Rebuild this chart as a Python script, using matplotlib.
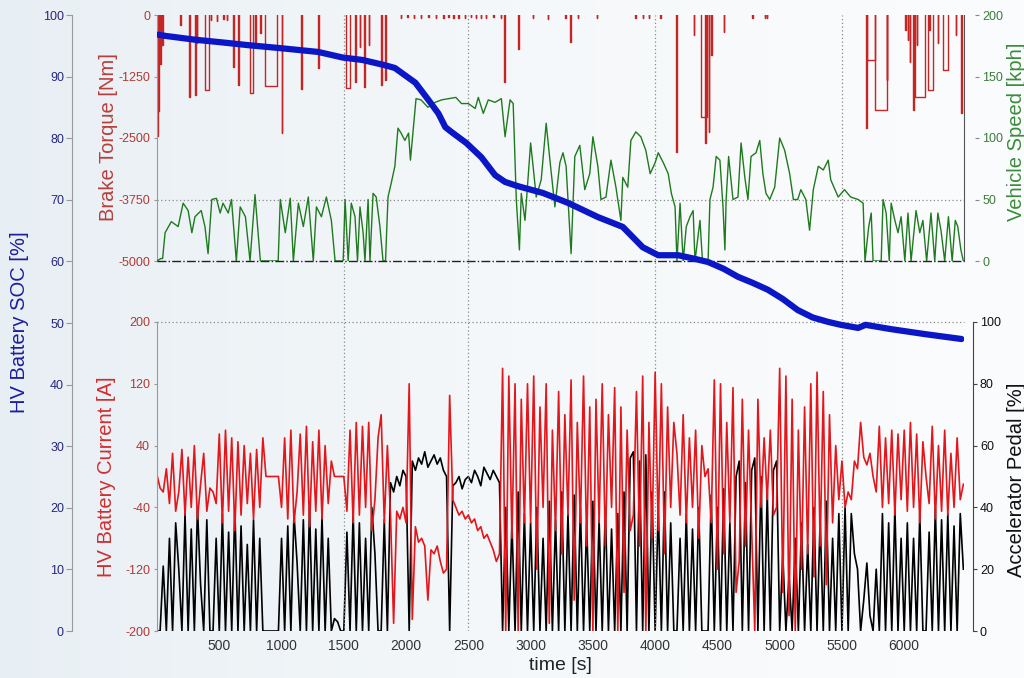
import numpy as np
import matplotlib.pyplot as plt
from matplotlib.colors import LinearSegmentedColormap

plt.rcParams['font.family'] = ['Liberation Sans', 'DejaVu Sans']
plt.rcParams['axes.unicode_minus'] = False

T_END = 6480

# HV battery state of charge [%]
soc_t = [10, 70, 300, 500, 735, 1000, 1295, 1490, 1650, 1820, 1910, 2075, 2180, 2260,
         2315, 2365, 2485, 2605, 2715, 2795, 2900, 3100, 3300, 3540, 3740, 3900, 4025,
         4185, 4300, 4425, 4550, 4665, 4785, 4905, 5025, 5145, 5265, 5385, 5491, 5630,
         5690, 5895, 6165, 6460]
soc_pct = [96.8, 96.6, 96.0, 95.6, 95.1, 94.6, 94.0, 93.1, 92.7, 91.9, 91.4, 89.0, 86.2, 84.0,
           81.8, 81.0, 79.2, 76.9, 74.0, 72.9, 72.2, 71.1, 69.5, 67.2, 65.6, 62.3, 61.0,
           61.0, 60.5, 59.9, 58.8, 57.5, 56.5, 55.4, 53.9, 52.1, 50.9, 50.2, 49.7, 49.2,
           49.7, 49.0, 48.2, 47.4]

# vehicle speed [kph]
speed_t = [0, 30, 45, 65, 115, 170, 210, 250, 280, 305,
           355, 385, 410, 440, 477, 507, 530, 572, 598, 637,
           668, 710, 747, 787, 830, 870, 973, 990, 1030, 1070,
           1095, 1135, 1175, 1215, 1255, 1280, 1320, 1360, 1400, 1430,
           1495, 1510, 1535, 1560, 1590, 1610, 1630, 1655, 1670, 1695,
           1710, 1735, 1760, 1790, 1815, 1835, 1855, 1880, 1910, 1935,
           1960, 1990, 2020, 2035, 2055, 2080, 2120, 2175, 2235, 2285,
           2340, 2400, 2445, 2500, 2555, 2580, 2620, 2660, 2715, 2765,
           2795, 2835, 2860, 2885, 2910, 2925, 2955, 2980, 3000, 3020,
           3045, 3085, 3125, 3155, 3195, 3235, 3260, 3285, 3325, 3355,
           3395, 3435, 3475, 3500, 3540, 3565, 3605, 3645, 3685, 3725,
           3740, 3780, 3805, 3845, 3885, 3925, 3960, 4000, 4025, 4065,
           4105, 4130, 4160, 4175, 4200, 4225, 4250, 4280, 4305, 4320,
           4360, 4380, 4425, 4440, 4465, 4490, 4520, 4545, 4560, 4570,
           4590, 4625, 4665, 4690, 4720, 4745, 4770, 4810, 4840, 4865,
           4890, 4920, 4960, 5000, 5040, 5080, 5110, 5145, 5170, 5210,
           5240, 5270, 5310, 5350, 5390, 5410, 5470, 5520, 5570, 5630,
           5670, 5685, 5715, 5735, 5750, 5815, 5830, 5855, 5880, 5895,
           5925, 5950, 5975, 6005, 6030, 6055, 6095, 6125, 6150, 6180,
           6215, 6245, 6270, 6295, 6325, 6355, 6385, 6410, 6430, 6455,
           6475]
speed_kph = [0, 2, 2, 23, 32, 28, 47, 41, 23, 36,
             41, 28, 6, 50, 51, 39, 47, 39, 50, 0,
             44, 36, 0, 54, 0, 0, 0, 50, 23, 51,
             0, 47, 28, 52, 0, 44, 36, 52, 33, 0,
             0, 50, 0, 47, 36, 0, 44, 23, 0, 50,
             0, 55, 52, 28, 0, 0, 52, 63, 77, 108,
             104, 98, 104, 82, 104, 132, 131, 125, 129, 131,
             132, 133, 128, 128, 124, 133, 120, 131, 129, 132,
             101, 131, 128, 50, 9, 55, 33, 68, 96, 77,
             52, 66, 112, 82, 44, 80, 88, 77, 6, 85,
             94, 58, 71, 101, 77, 50, 52, 82, 60, 33,
             68, 60, 98, 105, 101, 90, 71, 80, 88, 80,
             71, 55, 44, 0, 47, 0, 28, 36, 41, 0,
             33, 0, 0, 50, 60, 85, 82, 44, 9, 50,
             85, 50, 52, 96, 68, 50, 85, 88, 98, 71,
             55, 50, 60, 100, 90, 71, 50, 50, 58, 50,
             25, 58, 77, 74, 82, 66, 52, 58, 52, 50,
             47, 0, 28, 39, 0, 0, 50, 39, 0, 47,
             33, 23, 36, 0, 39, 0, 41, 23, 33, 0,
             39, 0, 39, 25, 0, 36, 0, 33, 28, 9,
             0]

# brake events: start [s], duration [s], torque [Nm]
brake_start = [0, 12, 25, 40, 185, 258, 305, 320, 385, 430,
               480, 530, 560, 612, 653, 750, 787, 828, 870, 1000,
               1160, 1295, 1520, 1590, 1630, 1665, 1700, 1800, 1830,
               1960, 2010, 2060, 2120, 2180, 2240, 2300, 2340, 2380, 2420,
               2470, 2520, 2560, 2600, 2640, 2700, 2760,
               2790, 2900, 3020, 3140, 3280, 3320, 3380, 3530,
               3840, 3900, 3950, 4040, 4170, 4310, 4370, 4400, 4430, 4450,
               4550, 4780, 4880, 4895, 5690, 5698, 5765, 5860,
               6010, 6030, 6045, 6070, 6085, 6100, 6190, 6200, 6270, 6310, 6415, 6455]
brake_len = [8, 8, 10, 5, 5, 6, 6, 4, 35, 4,
             4, 4, 4, 5, 5, 22, 4, 4, 90, 5,
             6, 5, 30, 5, 4, 6, 4, 6, 6,
             3, 3, 3, 3, 3, 3, 3, 3, 3, 3,
             3, 3, 3, 3, 3, 3, 3,
             5, 5, 3, 3, 3, 4, 3, 3,
             3, 3, 3, 3, 5, 4, 50, 5, 5, 5,
             4, 3, 3, 3, 8, 67, 100, 5,
             5, 4, 5, 5, 80, 4, 40, 4, 5, 40, 4, 10]
brake_nm = [-2450, -1950, -1000, -600, -200, -1660, -1630, -570, -1520, -100,
            -120, -90, -100, -1050, -1420, -1590, -550, -370, -1440, -2400,
            -1510, -1080, -1490, -1360, -650, -1460, -610, -1420, -1320,
            -60, -50, -60, -60, -50, -60, -60, -50, -60, -60,
            -60, -50, -60, -60, -60, -50, -60,
            -1360, -700, -60, -80, -60, -550, -60, -70,
            -60, -60, -60, -60, -2780, -400, -2070, -2600, -2370, -810,
            -340, -60, -60, -60, -2300, -910, -1930, -1320,
            -300, -500, -950, -1930, -1660, -600, -1520, -300, -570, -1120, -400, -1990]

# HV battery current [A] and accelerator pedal [%], one value every 25 s
sample_t = np.arange(0, 6500, 25)
current_a = [
    2, -15, -20, 10, -35, 30, -45, -20, 35, -50, 25, -40, 40, -55, -10, 30, -45, -15, -20, -35,
    55, -60, 60, -45, 50, -70, 45, -50, 40, -35, 30, -55, 35, -40, 50, 0, 0, 0, 0, 0,
    -40, 50, -55, 60, -60, -20, 55, -50, 65, -65, 45, -45, 60, -55, 40, -35, 20, 0, 0, 0,
    0, -45, 60, -60, 70, -50, 65, -40, 70, -70, -30, 50, 80, -60, 40, -50, -190, -45, -55, -40,
    -60, 120, -185, -65, -85, -80, -90, -160, -95, -100, -90, -110, -125, -120, 105, -30, -40, -50, -45, -55,
    -50, -60, -55, -70, -65, -80, -75, -85, -95, -110, -100, 140, -200, 130, -80, 120, -200, 100, -60, 120,
    -60, 130, -120, 90, -40, 120, -190, 60, -70, 110, -100, 80, -50, 125, -160, 70, -60, 130, -90, 90,
    -200, 100, -60, 120, -90, 80, -40, 115, -200, 90, -150, 60, -70, -50, 110, -90, 130, -200, 70, -80,
    135, -70, 120, -100, 90, -40, 70, 30, -50, 80, -60, 50, -40, 60, -80, 40, 0, 10, -60, 125,
    -120, 120, -100, 70, -60, 115, -150, -110, 100, -90, 60, -70, -200, 100, -40, 50, -30, 60, -50, -40,
    140, -150, 130, -180, 100, -200, 60, -120, 90, -100, 120, -130, 135, -90, 110, -140, 80, -60, 40, -30,
    20, -40, -20, -30, 20, 10, 70, 25, 15, 30, 0, -20, 65, -40, 50, -35, 60, -50, 55, -30,
    60, -45, 70, -40, 55, -60, 45, 0, -35, 65, -55, 40, -45, 60, -50, 30, -40, 50, -30, -10,
]
pedal_pct = [
    0, 0, 21, 0, 30, 0, 35, 20, 0, 38, 0, 33, 0, 40, 15, 0, 36, 0, 0, 30,
    0, 38, 0, 32, 0, 40, 0, 34, 0, 28, 0, 36, 0, 30, 0, 0, 0, 0, 0, 0,
    30, 0, 34, 0, 38, 22, 0, 36, 0, 40, 0, 33, 0, 37, 0, 30, 0, 4, 3, 0,
    0, 32, 0, 38, 0, 35, 0, 30, 0, 40, 25, 0, 0, 36, 0, 48, 45, 50, 47, 52,
    50, 0, 55, 52, 56, 54, 58, 53, 55, 57, 54, 56, 52, 50, 0, 47, 48, 50, 46, 49,
    50, 48, 52, 50, 47, 53, 51, 49, 52, 50, 48, 0, 40, 0, 35, 0, 45, 0, 38, 0,
    35, 0, 40, 0, 30, 0, 42, 0, 36, 0, 45, 0, 38, 0, 44, 0, 40, 0, 35, 0,
    42, 0, 36, 0, 40, 0, 33, 0, 38, 0, 45, 0, 56, 58, 0, 55, 0, 57, 0, 45,
    0, 40, 0, 45, 0, 35, 0, 0, 30, 0, 38, 0, 33, 0, 40, 0, 0, 0, 44, 0,
    40, 0, 46, 0, 35, 0, 50, 55, 0, 48, 0, 52, 56, 0, 50, 0, 45, 0, 52, 55,
    0, 25, 0, 18, 0, 30, 0, 35, 0, 28, 0, 40, 0, 36, 0, 42, 0, 30, 0, 38,
    0, 40, 0, 38, 25, 20, 0, 10, 22, 5, 0, 20, 0, 38, 0, 35, 0, 40, 0, 30,
    0, 35, 0, 30, 0, 38, 0, 0, 32, 0, 40, 0, 36, 0, 38, 0, 34, 0, 38, 20,
]

time_ticks = [500, 1000, 1500, 2000, 2500, 3000, 3500, 4000, 4500, 5000, 5500, 6000]
grid_t = [1500, 2500, 4000, 5500]
brake_ticks = [-5000, -3750, -2500, -1250, 0]
speed_ticks = [0, 50, 100, 150, 200]
current_ticks = [-200, -120, -40, 40, 120, 200]
pedal_ticks = [0, 20, 40, 60, 80, 100]
soc_ticks = list(range(0, 101, 10))

W, H = 1024, 678
DOT = (0, (1, 2))


# 像素框 -> figure 坐标
def box(x0, y0, x1, y1):
    return [x0 / W, 1 - y1 / H, (x1 - x0) / W, (y1 - y0) / H]


# 制动扭矩：每个事件画成一个矩形脉冲，之间断开
def brake_trace():
    xs, ys = [], []
    for t0, w, d in zip(brake_start, brake_len, brake_nm):
        xs += [t0, t0, t0 + w, t0 + w, np.nan]
        ys += [0, d, d, 0, np.nan]
    return xs, ys


def hide_spines(ax, keep=()):
    for name, sp in ax.spines.items():
        sp.set_visible(name in keep)


def main():
    fig = plt.figure(figsize=(10.24, 6.78), dpi=100)

    # background gradient
    bg = fig.add_axes([0, 0, 1, 1], zorder=-10)
    cmap = LinearSegmentedColormap.from_list('bg', ['#e8eff4', '#f5f8fa', '#fbfcfd'])
    bg.imshow(np.linspace(0, 1, 256)[None, :], aspect='auto', cmap=cmap, extent=[0, 1, 0, 1])
    bg.axis('off')

    # vertical grid through both panels
    ax_grid = fig.add_axes(box(157, 15, 964, 631))
    ax_grid.set_xlim(0, T_END)
    ax_grid.set_ylim(0, 1)
    ax_grid.axis('off')
    for t in grid_t:
        ax_grid.axvline(t, color='#8a8a8a', ls=DOT, lw=0.9)

    # upper panel: brake torque + vehicle speed
    ax_bt = fig.add_axes(box(157, 15, 964, 261))
    ax_bt.patch.set_visible(False)
    bx, by = brake_trace()
    ax_bt.plot(bx, by, color='#c42626', lw=1.0)
    ax_bt.axhline(-3750, color='#8a8a8a', ls=DOT, lw=0.9)
    ax_bt.set_xlim(0, T_END)
    ax_bt.set_ylim(-5000, 0)
    ax_bt.set_xticks([])
    ax_bt.set_yticks(brake_ticks)
    ax_bt.tick_params(axis='y', labelsize=9, labelcolor='#b03a36', length=2, color='#999999', pad=3)
    hide_spines(ax_bt, keep=('left', 'right'))
    ax_bt.spines['left'].set_color('#9a9a9a')
    ax_bt.spines['right'].set_color('#555555')

    ax_sp = ax_bt.twinx()
    ax_sp.plot(speed_t, speed_kph, color='#1f7a1f', lw=1.0)
    ax_sp.axhline(0, color='#222222', ls='-.', lw=1.0, clip_on=False)
    ax_sp.set_ylim(0, 200)
    ax_sp.set_yticks(speed_ticks)
    hide_spines(ax_sp)
    ax_sp.spines['right'].set_position(('outward', 8))
    ax_sp.tick_params(axis='y', labelsize=9, labelcolor='#3b7d3b', length=3, color='#888888', pad=2)

    # lower panel: battery current + accelerator pedal
    ax_i = fig.add_axes(box(157, 322, 964, 631))
    ax_ped = ax_i.twinx()
    ax_ped.set_zorder(ax_i.get_zorder() - 1)
    ax_i.patch.set_visible(False)
    ax_ped.patch.set_visible(False)

    ax_ped.plot(sample_t, pedal_pct, color='#000000', lw=1.2)
    ax_ped.set_ylim(0, 100)
    ax_ped.set_yticks(pedal_ticks)
    hide_spines(ax_ped, keep=('right',))
    ax_ped.spines['right'].set_position(('outward', 6.5))
    ax_ped.spines['right'].set_color('#444444')
    ax_ped.tick_params(axis='y', labelsize=9, labelcolor='#111111', length=3, color='#444444', pad=2)

    ax_i.plot(sample_t, current_a, color='#e3161b', lw=1.2)
    ax_i.axhline(200, color='#8a8a8a', ls=DOT, lw=0.9, clip_on=False)
    ax_i.set_xlim(0, T_END)
    ax_i.set_ylim(-200, 200)
    ax_i.set_yticks(current_ticks)
    ax_i.set_xticks(time_ticks)
    ax_i.tick_params(axis='y', labelsize=9, labelcolor='#b03a36', length=2, color='#999999', pad=3)
    ax_i.tick_params(axis='x', labelsize=10, labelcolor='#333333', length=0, pad=6)
    hide_spines(ax_i, keep=('left',))
    ax_i.spines['left'].set_color('#9a9a9a')

    # SOC over the whole height, axis moved to the far left
    ax_soc = fig.add_axes(box(157, 15, 964, 631))
    ax_soc.patch.set_visible(False)
    ax_soc.plot(soc_t, soc_pct, color='#0b16c6', lw=4.5, solid_capstyle='round')
    ax_soc.set_xlim(0, T_END)
    ax_soc.set_ylim(0, 100)
    ax_soc.set_xticks([])
    ax_soc.set_yticks(soc_ticks)
    hide_spines(ax_soc, keep=('left',))
    ax_soc.spines['left'].set_position(('outward', 61))
    ax_soc.spines['left'].set_color('#9a9a9a')
    ax_soc.tick_params(axis='y', labelsize=9, labelcolor='#262680', length=4, color='#9a9a9a', pad=2)

    # axis titles
    fig.text(20 / W, 1 - 322 / H, 'HV Battery SOC [%]', rotation=90, fontsize=14.5,
             color='#1e1e9c', ha='center', va='center')
    fig.text(108 / W, 1 - 137 / H, 'Brake Torque [Nm]', rotation=90, fontsize=14.5,
             color='#b5403a', ha='center', va='center')
    fig.text(106 / W, 1 - 477 / H, 'HV Battery Current [A]', rotation=90, fontsize=14.5,
             color='#cf2f2f', ha='center', va='center')
    fig.text(1016 / W, 1 - 132 / H, 'Vehicle Speed [kph]', rotation=90, fontsize=14.5,
             color='#3c8c3c', ha='center', va='center')
    fig.text(1016 / W, 1 - 480 / H, 'Accelerator Pedal [%]', rotation=90, fontsize=14.5,
             color='#111111', ha='center', va='center')
    fig.text(560 / W, 1 - 665 / H, 'time [s]', fontsize=14, color='#222222',
             ha='center', va='center')

    fig.savefig('out.png', dpi=100)


if __name__ == "__main__":
    main()
